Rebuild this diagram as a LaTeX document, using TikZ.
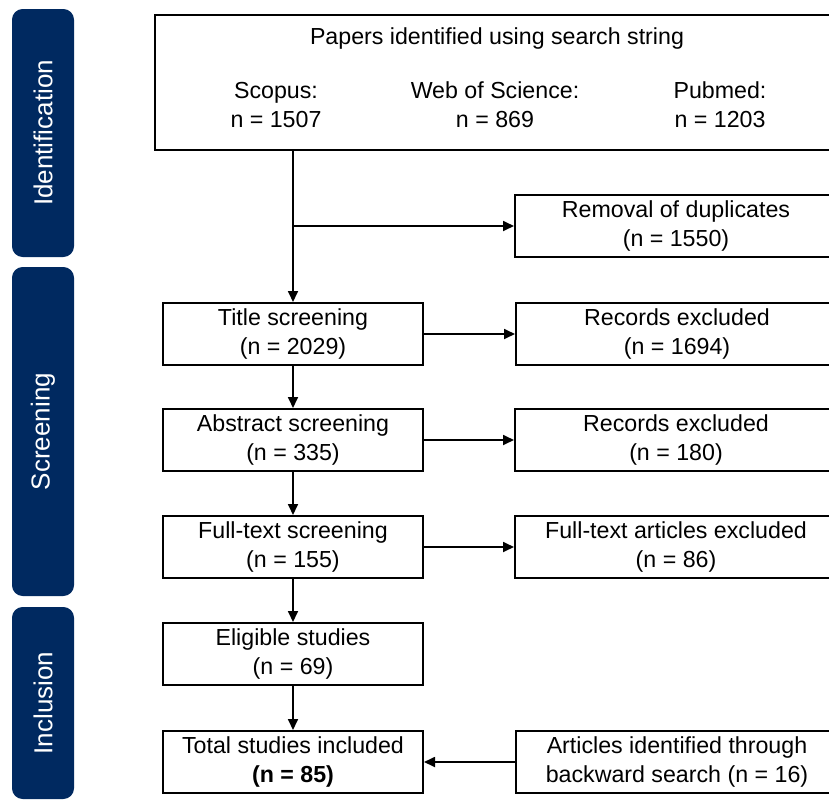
\documentclass[tikz,border=0pt]{standalone}
\usepackage{fontspec}
\setmainfont{Liberation Sans}
\usetikzlibrary{arrows.meta}

\definecolor{stagecolor}{RGB}{0,41,96}

\tikzset{
  box/.style={draw, line width=1.5pt, fill=white, align=center, inner sep=0pt,
    minimum width=195pt, minimum height=46.5pt,
    font=\fontsize{17.4}{21.75}\selectfont},
  widebox/.style={box, minimum width=241.5pt},
  plain/.style={align=center, inner sep=0pt, font=\fontsize{17.4}{21.75}\selectfont},
  stage/.style={fill=stagecolor, text=white, rounded corners=8pt, rotate=90,
    minimum height=46.5pt, inner sep=0pt, font=\fontsize{19.5}{23}\selectfont},
  flow/.style={line width=1.3pt, -{Triangle[length=8.25pt,width=7.5pt]}},
}

\begin{document}
\begin{tikzpicture}[x=0.75pt,y=-0.75pt]
\useasboundingbox (0,0) rectangle (829,800);
\clip (0,0) rectangle (829,800);

% stages on the left
\node[stage, minimum width=186pt] (ident) at (43,133) {Identification};
\node[stage, minimum width=246.75pt] (screen) at (43,431.5) {Screening};
\node[stage, minimum width=144pt] (incl) at (43,703) {Inclusion};

% identification
\node[box, minimum width=513pt, minimum height=101.25pt] (papers) at (497,82.5) {};
\node[plain] (head) at (497,38) {Papers identified using search string};
\node[plain] (scopus) at (276,105) {Scopus:\\n = 1507};
\node[plain] (wos) at (495,105) {Web of Science:\\n = 869};
\node[plain] (pubmed) at (720,105) {Pubmed:\\n = 1203};
\node[widebox] (dupl) at (676,226) {Removal of duplicates\\(n = 1550)};

% screening
\node[box] (title) at (293,334) {Title screening\\(n = 2029)};
\node[widebox] (titleex) at (677,334) {Records excluded\\(n = 1694)};
\node[box] (abstract) at (293,440) {Abstract screening\\(n = 335)};
\node[widebox] (abstractex) at (676,440) {Records excluded\\(n = 180)};
\node[box] (fulltext) at (293,547) {Full-text screening\\(n = 155)};
\node[widebox] (fulltextex) at (676,547) {Full-text articles excluded\\(n = 86)};

% inclusion
\node[box] (eligible) at (293,654) {Eligible studies\\(n = 69)};
\node[box] (total) at (293,762) {Total studies included\\\textbf{(n = 85)}};
\node[widebox] (backward) at (677,762) {Articles identified through\\backward search (n = 16)};

% connectors
\draw[flow] (papers.south -| title.north) -- (title.north);
\coordinate (split) at (title.north |- dupl.west);
\draw[flow] (split) -- (dupl.west);
\draw[flow] (title) -- (abstract);
\draw[flow] (abstract) -- (fulltext);
\draw[flow] (fulltext) -- (eligible);
\draw[flow] (eligible) -- (total);
\draw[flow] (title.east) -- (titleex.west);
\draw[flow] (abstract.east) -- (abstractex.west);
\draw[flow] (fulltext.east) -- (fulltextex.west);
\draw[flow] (backward.west) -- (total.east);
\end{tikzpicture}
\end{document}
